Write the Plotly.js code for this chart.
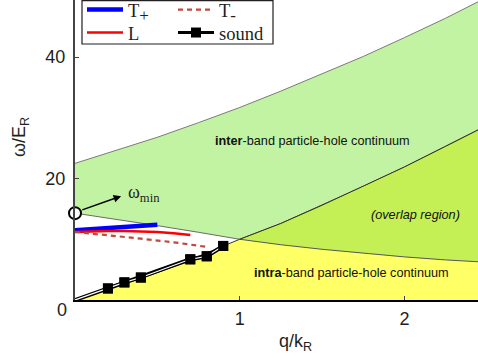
<!DOCTYPE html>
<html>
<head>
<meta charset="utf-8">
<script src="https://cdn.plot.ly/plotly-3.0.1.min.js"></script>
<style>html,body{margin:0;padding:0;background:#fff;}#chart{width:478px;height:362px;}</style>
</head>
<body>
<div id="chart"></div>
<script>
// Boundaries of the continua
const qGrid      = [0, 0.25, 0.5, 0.75, 1, 1.25, 1.5, 1.75, 2, 2.25, 2.447];
const interUpper = [22.5, 24.6, 26.8, 29.2, 31.7, 34.4, 37.2, 40.1, 43.2, 46.4, 49.1];
const interLower = [14.3, 13.3, 12.25, 11.15, 10.0, 9.1, 8.35, 7.7, 7.1, 6.6, 6.3];
const intraUpper = [0, 2.3, 4.7, 7.2, 10.0, 12.6, 15.6, 18.7, 21.9, 25.3, 28.0];
const overlapStart = 4; // index in qGrid where the two continua start to overlap

// Collective modes
const tPlusQ = [0, 0.1, 0.2, 0.3, 0.4, 0.5];
const tPlusW = [11.5, 11.7, 11.9, 12.1, 12.25, 12.4];
const lQ = [0, 0.1, 0.2, 0.3, 0.4, 0.5, 0.6, 0.7];
const lW = [11.2, 11.3, 11.35, 11.35, 11.3, 11.2, 11.0, 10.7];
const tMinusQ = [0, 0.2, 0.4, 0.6, 0.81];
const tMinusW = [11.2, 10.7, 10.1, 9.5, 8.7];
const soundQ = [0.2, 0.3, 0.4, 0.7, 0.8, 0.9];
const soundW = [1.9, 2.9, 3.7, 6.7, 7.2, 8.9];
const soundLineQ = [0, 0.2, 0.3, 0.4, 0.7, 0.8, 0.9];
const soundLineW = [0, 1.9, 2.9, 3.7, 6.7, 7.2, 8.9];
const omegaMin = {q: 0, w: 14.3};

const cInter = '#c2f3a3', cOverlap = '#c4ef55', cIntra = '#ffff66';

const ovQ = qGrid.slice(overlapStart);
const ovLow = interLower.slice(overlapStart);
const ovHigh = intraUpper.slice(overlapStart);

// plot-area geometry helpers (pixel -> paper fraction)
const L = 75, R = 478, B = 300, T = 0;
const px = v => (v - L) / (R - L);
const py = v => (B - v) / (B - T);

const traces = [
  {x: qGrid, y: interLower, mode: 'lines', line: {color: '#6a6a6a', width: 1}, showlegend: false, hoverinfo: 'skip'},
  {x: qGrid, y: interUpper, mode: 'lines', fill: 'tonexty', fillcolor: cInter, line: {color: '#7a7a7a', width: 1}, showlegend: false, hoverinfo: 'skip'},
  {x: qGrid, y: intraUpper, mode: 'lines', fill: 'tozeroy', fillcolor: cIntra, line: {color: '#333', width: 1}, showlegend: false, hoverinfo: 'skip'},
  {x: ovQ.concat(ovQ.slice().reverse()), y: ovLow.concat(ovHigh.slice().reverse()), mode: 'lines', fill: 'toself', fillcolor: cOverlap, line: {width: 0}, showlegend: false, hoverinfo: 'skip'},
  {x: ovQ, y: ovLow, mode: 'lines', line: {color: '#555', width: 1}, showlegend: false, hoverinfo: 'skip'},
  {x: ovQ, y: ovHigh, mode: 'lines', line: {color: '#333', width: 1}, showlegend: false, hoverinfo: 'skip'},
  {x: tPlusQ, y: tPlusW, mode: 'lines', name: 'T<sub><span style="font-size:17px">+</span></sub>', line: {color: '#0000ff', width: 4.5}, legend: 'legend'},
  {x: lQ, y: lW, mode: 'lines', name: 'L', line: {color: '#ff0000', width: 2.5}, legend: 'legend3'},
  {x: tMinusQ, y: tMinusW, mode: 'lines', name: 'T<sub><span style="font-size:17px">-</span></sub>', line: {color: '#bf4a3c', width: 2.2, dash: '5px,4px'}, legend: 'legend2'},
  {x: soundLineQ, y: soundLineW, mode: 'lines', line: {color: '#000', width: 4}, showlegend: false, hoverinfo: 'skip'},
  {x: soundQ, y: soundW, mode: 'lines+markers', name: 'sound', line: {color: '#000', width: 3}, marker: {symbol: 'square', size: 10, color: '#000'}, legend: 'legend4'},
  {x: soundLineQ, y: soundLineW, mode: 'lines', line: {color: '#fff', width: 1.2}, showlegend: false, hoverinfo: 'skip'},
  {x: soundQ, y: soundW, mode: 'markers', marker: {symbol: 'square', size: 10, color: '#000'}, showlegend: false, hoverinfo: 'skip'},
  {x: [omegaMin.q], y: [omegaMin.w], mode: 'markers', marker: {symbol: 'circle', size: 12, color: '#fff', line: {color: '#000', width: 2}}, cliponaxis: false, showlegend: false, hoverinfo: 'skip'}
];

const legendBase = {
  xref: 'paper', yref: 'paper', yanchor: 'middle', xanchor: 'left',
  bgcolor: 'rgba(0,0,0,0)', borderwidth: 0, itemwidth: 36,
  font: {family: 'Liberation Serif, serif', size: 18.5, color: '#231f20'},
  orientation: 'v', traceorder: 'normal'
};
const col1 = 82, col2 = 173, row1 = 10, row2 = 33;

const layout = {
  width: 478, height: 362,
  margin: {l: 75, r: 0, t: 0, b: 62, autoexpand: false},
  paper_bgcolor: '#fff', plot_bgcolor: '#fff',
  font: {family: 'Liberation Sans, Arial, sans-serif', color: '#231f20'},
  xaxis: {range: [0, 2.447], tickvals: [1, 2], ticks: 'inside', ticklen: 4, tickcolor: '#444', showline: true, linecolor: '#000', linewidth: 2, showgrid: false, zeroline: false, tickfont: {size: 18}, ticklabelstandoff: 1},
  yaxis: {range: [0, 49.4], tickvals: [20, 40], ticks: 'inside', ticklen: 4, tickcolor: '#444', showline: true, linecolor: '#444', linewidth: 2, showgrid: false, zeroline: false, tickfont: {size: 18}, ticklabelstandoff: 4},
  legend:  Object.assign({}, legendBase, {x: px(col1), y: py(row1)}),
  legend2: Object.assign({}, legendBase, {x: px(col2), y: py(row1)}),
  legend3: Object.assign({}, legendBase, {x: px(col1), y: py(row2)}),
  legend4: Object.assign({}, legendBase, {x: px(col2), y: py(row2)}),
  shapes: [
    {type: 'rect', xref: 'paper', yref: 'paper', x0: px(82), x1: px(273), y0: py(44), y1: py(0.6), line: {color: '#231f20', width: 1.2}, fillcolor: 'rgba(0,0,0,0)', layer: 'above'}
  ],
  annotations: [
    {xref: 'x', yref: 'y', x: 0.28, y: 17.1, ax: 0.035, ay: 14.75, axref: 'x', ayref: 'y', text: '', showarrow: true, arrowhead: 2, arrowsize: 1, arrowwidth: 1.5, arrowcolor: '#000'},
    {xref: 'x', yref: 'y', x: 0.31, y: 17.6, xanchor: 'left', yanchor: 'middle', text: 'ω<sub>min</sub>', showarrow: false, font: {family: 'Liberation Serif, serif', size: 18, color: '#231f20'}},
    {xref: 'x', yref: 'y', x: 1.44, y: 26.2, text: '<b>inter</b>-band particle-hole continuum', showarrow: false, font: {size: 12.7, color: '#111'}},
    {xref: 'x', yref: 'y', x: 2.07, y: 14.0, text: '<i>(overlap region)</i>', showarrow: false, font: {size: 12.7, color: '#111'}},
    {xref: 'x', yref: 'y', x: 1.68, y: 4.5, text: '<b>intra</b>-band particle-hole continuum', showarrow: false, font: {size: 12.7, color: '#111'}},
    {xref: 'paper', yref: 'paper', x: px(295), y: py(342), xanchor: 'center', yanchor: 'middle', text: 'q/k<sub>R</sub>', showarrow: false, font: {size: 18, color: '#231f20'}},
    {xref: 'paper', yref: 'paper', x: px(20), y: py(137), xanchor: 'center', yanchor: 'middle', textangle: -90, text: 'ω/E<sub>R</sub>', showarrow: false, font: {size: 18, color: '#231f20'}},
    {xref: 'paper', yref: 'paper', x: px(62), y: py(310), xanchor: 'center', yanchor: 'middle', text: '0', showarrow: false, font: {size: 18, color: '#231f20'}}
  ]
};

Plotly.newPlot('chart', traces, layout, {staticPlot: true, displayModeBar: false});
</script>
</body>
</html>
